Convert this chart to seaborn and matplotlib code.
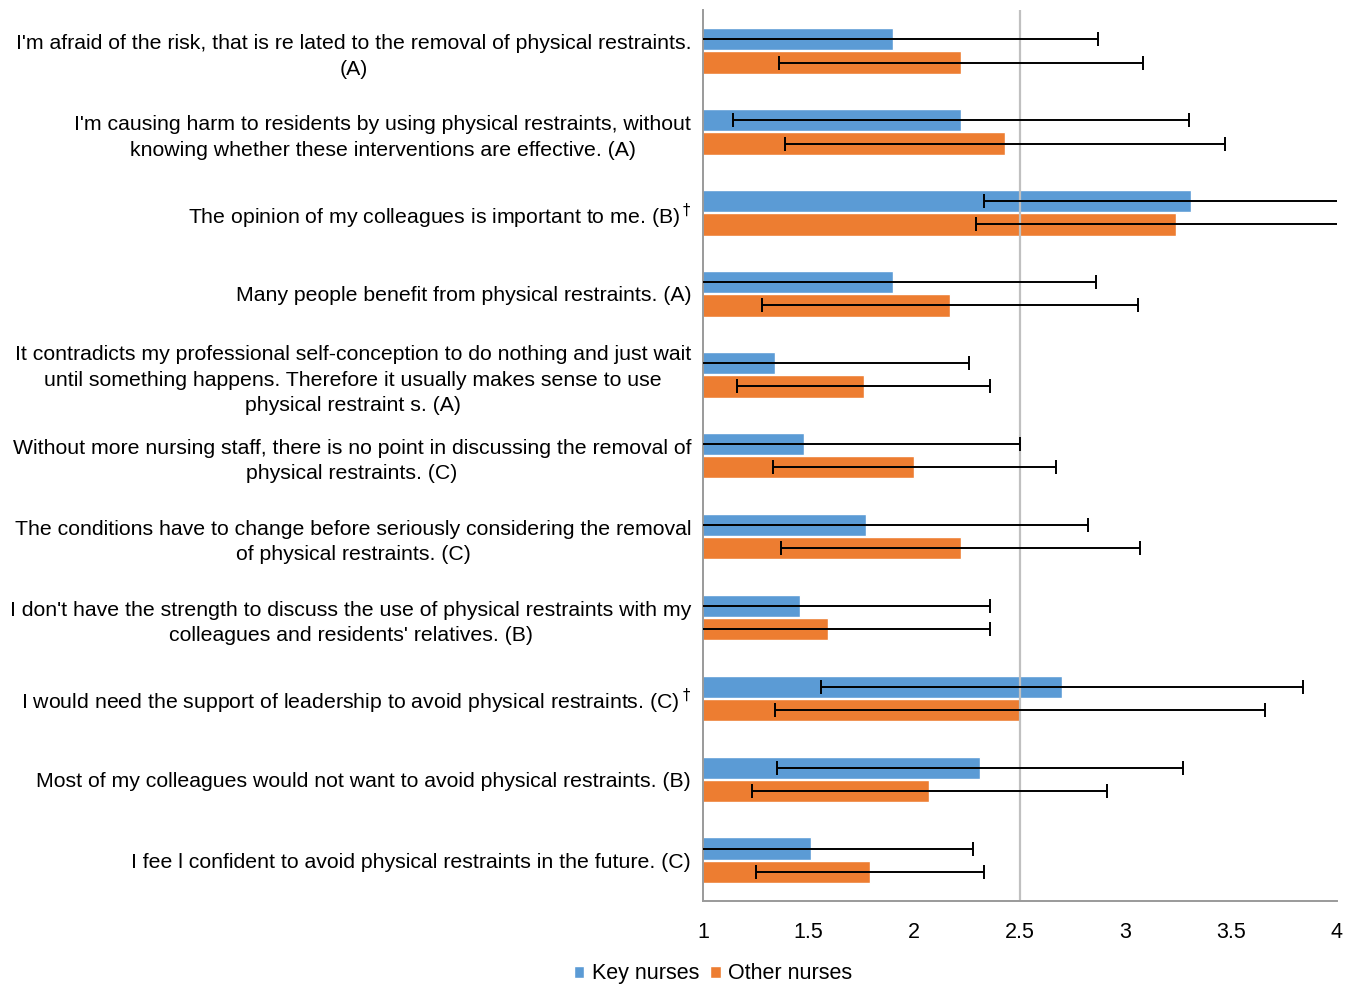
import matplotlib
matplotlib.use("Agg")
import matplotlib.pyplot as plt
import seaborn as sns
import pandas as pd
import numpy as np

categories = [
    "I'm afraid of the risk, that is re lated to the removal of physical restraints.\n(A)",
    "I'm causing harm to residents by using physical restraints, without\nknowing whether these interventions are effective. (A)",
    "The opinion of my colleagues is important to me. (B)$^\\dagger$",
    "Many people benefit from physical restraints. (A)",
    "It contradicts my professional self-conception to do nothing and just wait\nuntil something happens. Therefore it usually makes sense to use\nphysical restraint s. (A)",
    "Without more nursing staff, there is no point in discussing the removal of\nphysical restraints. (C)",
    "The conditions have to change before seriously considering the removal\nof physical restraints. (C)",
    "I don't have the strength to discuss the use of physical restraints with my\ncolleagues and residents' relatives. (B)",
    "I would need the support of leadership to avoid physical restraints. (C)$^\\dagger$",
    "Most of my colleagues would not want to avoid physical restraints. (B)",
    "I fee l confident to avoid physical restraints in the future. (C)",
]
groups = ["Key nurses", "Other nurses"]
key_mean = [1.90, 2.22, 3.31, 1.90, 1.34, 1.48, 1.77, 1.46, 2.70, 2.31, 1.51]
key_sd = [0.97, 1.08, 0.98, 0.96, 0.92, 1.02, 1.05, 0.90, 1.14, 0.96, 0.77]
other_mean = [2.22, 2.43, 3.24, 2.17, 1.76, 2.00, 2.22, 1.59, 2.50, 2.07, 1.79]
other_sd = [0.86, 1.04, 0.95, 0.89, 0.60, 0.67, 0.85, 0.77, 1.16, 0.84, 0.54]
xticks = [1, 1.5, 2, 2.5, 3, 3.5, 4]
ref_value = 2.5

colors = {"Key nurses": "#5B9BD5", "Other nurses": "#ED7D31"}

df = pd.DataFrame({
    "item": categories * 2,
    "group": [groups[0]] * len(categories) + [groups[1]] * len(categories),
    "mean": key_mean + other_mean,
})
sds = {groups[0]: key_sd, groups[1]: other_sd}

sns.set_style("white")
plt.rcParams["font.family"] = ["Liberation Sans", "DejaVu Sans"]
plt.rcParams["mathtext.fontset"] = "dejavusans"
plt.rcParams["text.color"] = "black"

fig = plt.figure(figsize=(13.53, 9.84), dpi=100)
ax = fig.add_axes([0.5196, 0.0845, 0.4685, 0.905])

sns.barplot(data=df, y="item", x="mean", hue="group", order=categories,
            hue_order=groups, palette=colors, orient="h", width=0.58,
            gap=0.05, errorbar=None, ax=ax, saturation=1, legend=True)

for cont, g in zip(ax.containers, groups):
    ys = [p.get_y() + p.get_height() / 2 for p in cont.patches]
    xs = [p.get_width() for p in cont.patches]
    ax.errorbar(xs, ys, xerr=sds[g], fmt="none", ecolor="black",
                elinewidth=1.4, capsize=5, capthick=1.4, zorder=3)

ax.axvline(ref_value, color="#c0c0c0", lw=1.6, zorder=2.5)

ax.set_xlim(1, 4)
ax.set_ylim(len(categories) - 0.5, -0.5)
ax.set_xticks(xticks)
ax.set_xticklabels([f"{t:g}" for t in xticks])
ax.set_xlabel("")
ax.set_ylabel("")

ax.set_yticks(np.arange(-0.5, len(categories), 1.0), minor=True)
ax.tick_params(axis="y", which="major", length=0, pad=8.5, labelsize=15.3,
               labelcolor="black")
ax.tick_params(axis="y", which="minor", length=5, color="#9a9a9a", width=1.2)
ax.tick_params(axis="x", which="major", length=6, color="#9a9a9a", width=1.2,
               labelsize=15.5, pad=9, direction="out", labelcolor="black")
for lab in ax.get_yticklabels():
    lab.set_multialignment("center")
    lab.set_linespacing(1.45)

for s in ["top", "right"]:
    ax.spines[s].set_visible(False)
for s in ["left", "bottom"]:
    ax.spines[s].set_color("#9a9a9a")
    ax.spines[s].set_linewidth(1.4)

handles, labels = ax.get_legend_handles_labels()
ax.legend_.remove()
fig.legend(handles, labels, loc="lower center", bbox_to_anchor=(0.527, -0.02),
           ncol=2, frameon=False, fontsize=15.5, handlelength=0.5,
           handleheight=0.5, handletextpad=0.35, columnspacing=0.5)

fig.savefig("out.png", dpi=100)
